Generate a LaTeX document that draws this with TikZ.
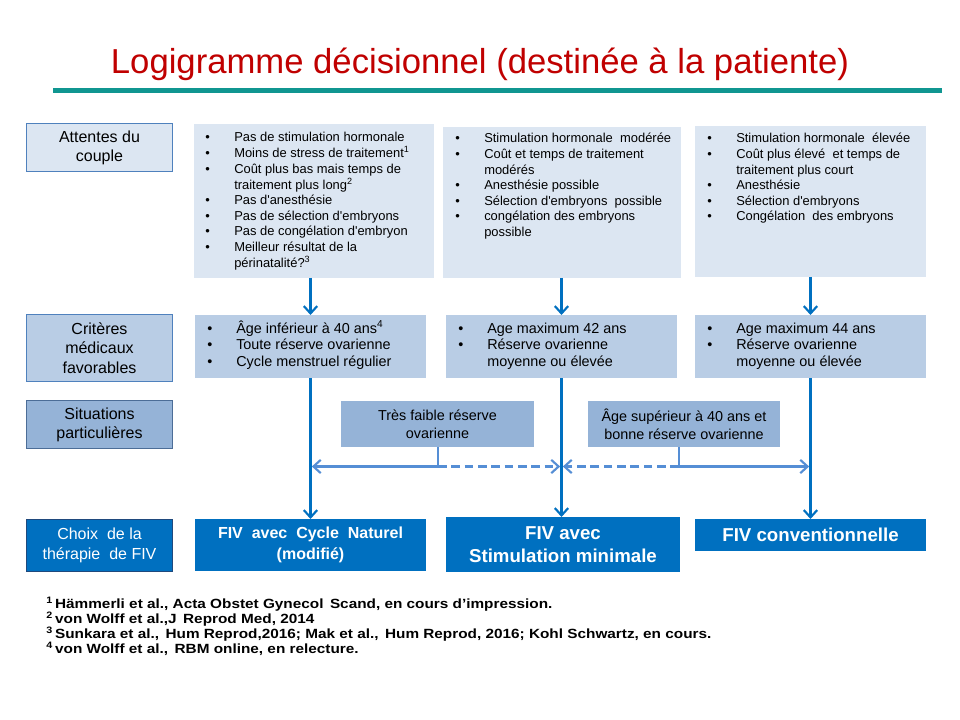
\documentclass[tikz,border=0pt]{standalone}
\usepackage{fontspec}
\setmainfont{Liberation Sans}
\newfontfamily\notefont[FakeStretch=1.15]{Liberation Sans}
\usetikzlibrary{arrows.meta,fit}
\definecolor{titlered}{RGB}{192,0,0}
\definecolor{tealline}{RGB}{16,150,145}
\definecolor{boxlight}{RGB}{220,230,242}
\definecolor{boxmed}{RGB}{185,205,229}
\definecolor{boxsit}{RGB}{149,179,215}
\definecolor{boxdark}{RGB}{0,112,192}
\definecolor{edgelight}{RGB}{79,129,189}
\definecolor{edgedark}{RGB}{31,73,125}
\definecolor{mainarrow}{RGB}{0,112,192}
\definecolor{lightarrow}{RGB}{85,142,213}
\newcommand{\blist}[1]{\begin{tabular}[t]{@{}p{21.75pt}@{}l@{}}#1\end{tabular}}
\newcommand{\ap}{\textquotesingle}
\begin{document}
\begin{tikzpicture}[x=0.75pt,y=-0.75pt,
  area/.style={inner sep=0pt,outer sep=0pt},
  labelbox/.style={area,draw=edgelight,line width=0.8pt},
  labeltext/.style={inner sep=0pt,align=center,font=\fontsize{12}{14.4}\selectfont},
  topbox/.style={area,fill=boxlight},
  critbox/.style={area,fill=boxmed},
  sitbox/.style={area,fill=boxsit},
  sittext/.style={inner sep=0pt,align=center,font=\fontsize{10.8}{13.6}\selectfont},
  fivbox/.style={area,fill=boxdark},
  fivtext/.style={inner sep=0pt,align=center,text=white},
  listtext/.style={inner sep=0pt,anchor=base west},
  toplist/.style={listtext,font=\fontsize{9.7}{11.7}\selectfont},
  critlist/.style={listtext,font=\fontsize{10.8}{12.5}\selectfont},
  notetext/.style={inner sep=0pt,anchor=base west,font=\notefont\bfseries\fontsize{10}{11.4}\selectfont},
  mainarr/.style={draw=mainarrow,line width=1.9pt,-{Straight Barb[length=5.5pt,width=10pt,line width=1.6pt]}},
  lightarr/.style={draw=lightarrow,line width=1.8pt,-{Straight Barb[length=5.5pt,width=10pt,line width=1.6pt]}},
  dashedline/.style={dash pattern=on 6.5pt off 3.5pt}
]
\useasboundingbox (0,0) rectangle (960,720);
\fill[white] (0,0) rectangle (960,720);

% title
\node[inner sep=0pt,anchor=base,text=titlered,font=\fontsize{26}{30}\selectfont] (title) at (480,74)
  {Logigramme décisionnel (destinée à la patiente)};
\fill[tealline] (53,88) rectangle (942,93.5);

% left labels
\node[labelbox,fill=boxlight,fit={(26.5,123.5) (172.5,171.5)}] (lab1) {};
\node[labeltext] (lab1t) at (lab1.center) {Attentes du\\couple};
\node[labelbox,fill=boxmed,fit={(26.5,314.5) (172.5,381.5)}] (lab2) {};
\node[labeltext] (lab2t) at (lab2.center) {Critères\\médicaux\\favorables};
\node[labelbox,fill=boxsit,draw=edgedark!80,fit={(26.5,400.5) (172.5,448.5)}] (lab3) {};
\node[labeltext] (lab3t) at (lab3.center) {Situations\\particulières};
\node[labelbox,fill=boxdark,draw=edgedark,fit={(26.5,519.5) (172.5,571.5)}] (lab4) {};
\node[labeltext,text=white,font=\fontsize{12}{15.5}\selectfont] (lab4t) at (lab4.center)
  {Choix\ \ de la\\thérapie\ \ de FIV};

% top boxes
\node[topbox,fit={(194,124) (434,278)}] (top1) {};
\node[topbox,fit={(443,127) (681,278)}] (top2) {};
\node[topbox,fit={(695,126) (926,277)}] (top3) {};

\node[toplist] (top1t) at (205,142) {\blist{%
• & Pas de stimulation hormonale\\
• & Moins de stress de traitement\textsuperscript{1}\\
• & Coût plus bas mais temps de\\
  & traitement plus long\textsuperscript{2}\\
• & Pas d\ap anesthésie\\
• & Pas de sélection d\ap embryons\\
• & Pas de congélation d\ap embryon\\
• & Meilleur résultat de la\\
  & périnatalité?\textsuperscript{3}}};

\node[toplist] (top2t) at (455,143) {\blist{%
• & Stimulation hormonale\ \ modérée\\
• & Coût et temps de traitement\\
  & modérés\\
• & Anesthésie possible\\
• & Sélection d\ap embryons\ \ possible\\
• & congélation des embryons\\
  & possible}};

\node[toplist] (top3t) at (707,143) {\blist{%
• & Stimulation hormonale\ \ élevée\\
• & Coût plus élevé\ \ et temps de\\
  & traitement plus court\\
• & Anesthésie\\
• & Sélection d\ap embryons\\
• & Congélation\ \ des embryons}};

% criteria boxes
\node[critbox,fit={(195,315) (426,378)}] (crit1) {};
\node[critbox,fit={(446,315) (677,378)}] (crit2) {};
\node[critbox,fit={(695,315) (926,378)}] (crit3) {};

\node[critlist] (crit1t) at (207,333) {\blist{%
• & Âge inférieur à 40 ans\textsuperscript{4}\\
• & Toute réserve ovarienne\\
• & Cycle menstruel régulier}};
\node[critlist] (crit2t) at (458,333) {\blist{%
• & Age maximum 42 ans\\
• & Réserve ovarienne\\
  & moyenne ou élevée}};
\node[critlist] (crit3t) at (707,333) {\blist{%
• & Age maximum 44 ans\\
• & Réserve ovarienne\\
  & moyenne ou élevée}};

% special situations
\node[sitbox,fit={(341,401) (534,447)}] (sit1) {};
\node[sittext] (sit1t) at (sit1.center) {Très faible réserve\\ovarienne};
\node[sitbox,fit={(588,401) (780,447)}] (sit2) {};
\node[sittext] (sit2t) at (sit2.center) {Âge supérieur à 40 ans et\\bonne réserve ovarienne};

% therapy choice
\node[fivbox,fit={(195,519) (426,571)}] (fiv1) {};
\node[fivtext,font=\bfseries\fontsize{12}{15.5}\selectfont] (fiv1t) at (fiv1.center)
  {FIV\ \ avec\ \ Cycle\ \ Naturel\\(modifié)};
\node[fivbox,fit={(446,517) (680,572)}] (fiv2) {};
\node[fivtext,font=\bfseries\fontsize{14}{17.5}\selectfont] (fiv2t) at (fiv2.center)
  {FIV avec\\Stimulation minimale};
\node[fivbox,fit={(695,519) (926,551)}] (fiv3) {};
\node[fivtext,font=\bfseries\fontsize{14}{17}\selectfont] (fiv3t) at (fiv3.center)
  {FIV conventionnelle};

% arrows top -> criteria
\draw[mainarr] (top1.south -| crit1.north) -- (crit1.north);
\draw[mainarr] (top2.south -| crit2.north) -- (crit2.north);
\draw[mainarr] (top3.south -| crit3.north) -- (crit3.north);

% criteria -> therapy
\draw[mainarr] (crit1.south) -- (crit1.south |- fiv1.north);
\draw[mainarr] (crit2.south) -- (crit2.south |- fiv2.north);
\draw[mainarr] (crit3.south) -- (crit3.south |- fiv3.north);

% special situation arrows
\coordinate (j1) at (438,466.5);
\coordinate (j2) at (679,466.5);
\draw[lightarr] (sit1.south -| j1) |- ([xshift=1pt]crit1.south |- j1);
\draw[lightarr,dashedline] (j1) -- ([xshift=-1pt]crit2.south |- j1);
\draw[lightarr,dashedline] (j2) -- ([xshift=1pt]crit2.south |- j1);
\draw[lightarr] (sit2.south -| j2) |- ([xshift=-1pt]crit3.south |- j2);

% footnotes
\node[notetext] (note1) at (46,608)
  {\textsuperscript{1}\,Hämmerli et al., Acta Obstet Gynecol\ \,Scand, en cours d’impression.};
\node[notetext] (note2) at (46,623.2)
  {\textsuperscript{2}\,von Wolff et al.,J\ \,Reprod Med, 2014};
\node[notetext] (note3) at (46,638.4)
  {\textsuperscript{3}\,Sunkara et al.,\ \,Hum Reprod,2016; Mak et al.,\ \,Hum Reprod, 2016; Kohl Schwartz, en cours.};
\node[notetext] (note4) at (46,653.6)
  {\textsuperscript{4}\,von Wolff et al.,\ \,RBM online, en relecture.};
\end{tikzpicture}
\end{document}
